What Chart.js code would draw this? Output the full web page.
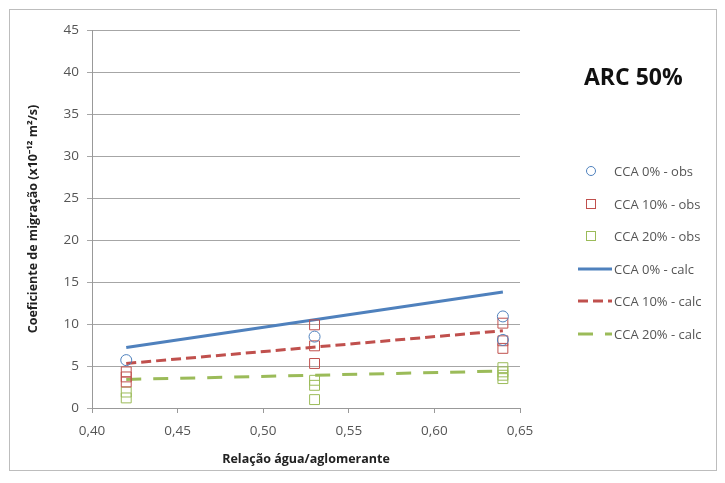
<!DOCTYPE html>
<html>
<head>
<meta charset="utf-8">
<script src="https://cdn.jsdelivr.net/npm/chart.js@4.4.1/dist/chart.umd.min.js"></script>
<style>
  body { margin: 0; background: #fff; font-family: "Open Sans", "Noto Sans", sans-serif; }
  #wrap { position: relative; width: 725px; height: 483px; }
  #frame { position: absolute; left: 9px; top: 9px; width: 706px; height: 460px; border: 1px solid #bdbdbd; }
  #title { position: absolute; left: 584px; top: 60px; font-size: 23px; font-weight: bold; color: #111; }
  #legend { position: absolute; left: 578px; top: 155px; font-size: 13px; color: #555; }
  .item { height: 32.6px; position: relative; }
  .item span.lbl { position: absolute; left: 36px; top: 7px; white-space: nowrap; }
  .item svg { position: absolute; left: 0; top: 8px; }
</style>
</head>
<body>
<div id="wrap">
  <div id="frame"></div>
  <canvas id="c" width="725" height="483"></canvas>
  <div id="title">ARC 50%</div>
  <div id="legend"></div>
</div>
<script>
const xTicks = [0.40, 0.45, 0.50, 0.55, 0.60, 0.65];
const yTicks = [0, 5, 10, 15, 20, 25, 30, 35, 40, 45];

// observed points (a/ag, coef.)
const obs0X = [0.42, 0.53, 0.64, 0.64];
const obs0Y = [5.7, 8.5, 10.9, 8.1];
const obs10X = [0.42, 0.42, 0.42, 0.53, 0.53, 0.53, 0.64, 0.64, 0.64];
const obs10Y = [4.3, 3.7, 3.1, 9.9, 7.4, 5.3, 10.1, 8.0, 7.1];
const obs20X = [0.42, 0.42, 0.53, 0.53, 0.53, 0.64, 0.64, 0.64, 0.64];
const obs20Y = [1.9, 1.2, 3.3, 2.7, 1.0, 4.8, 4.3, 3.9, 3.5];

// calculated lines
const calcX = [0.42, 0.64];
const calc0 = [7.2, 13.8];
const calc10 = [5.3, 9.2];
const calc20 = [3.4, 4.4];

const blue = "#4F81BD";
const red = "#C0504D";
const green = "#9BBB59";

const pts = (xs, ys) => xs.map((x, i) => ({ x: x, y: ys[i] }));

const datasets = [
  { label: "CCA 0% - obs", data: pts(obs0X, obs0Y), pointStyle: "circle", radius: 5.5, borderColor: blue, backgroundColor: "rgba(0,0,0,0)", borderWidth: 1, showLine: false },
  { label: "CCA 10% - obs", data: pts(obs10X, obs10Y), pointStyle: "rect", radius: 7, borderColor: red, backgroundColor: "rgba(0,0,0,0)", borderWidth: 1, showLine: false },
  { label: "CCA 20% - obs", data: pts(obs20X, obs20Y), pointStyle: "rect", radius: 7, borderColor: green, backgroundColor: "rgba(0,0,0,0)", borderWidth: 1, showLine: false },
  { label: "CCA 0% - calc", data: pts(calcX, calc0), showLine: true, borderColor: blue, borderWidth: 3, pointRadius: 0 },
  { label: "CCA 10% - calc", data: pts(calcX, calc10), showLine: true, borderColor: red, borderWidth: 3, borderDash: [10, 5], pointRadius: 0 },
  { label: "CCA 20% - calc", data: pts(calcX, calc20), showLine: true, borderColor: green, borderWidth: 3, borderDash: [15, 12], pointRadius: 0 }
];

new Chart(document.getElementById("c"), {
  type: "scatter",
  data: { datasets: datasets },
  options: {
    responsive: false,
    animation: false,
    layout: { padding: { left: 22, top: 30, right: 205, bottom: 12 } },
    plugins: { legend: { display: false }, tooltip: { enabled: false } },
    scales: {
      x: {
        type: "linear",
        min: xTicks[0],
        max: xTicks[xTicks.length - 1],
        afterBuildTicks: (s) => { s.ticks = xTicks.map((v) => ({ value: v })); },
        afterFit: (s) => { s.height = 63; },
        ticks: {
          color: "#555",
          font: { size: 13.5, family: "Open Sans" },
          padding: 10,
          callback: (v) => v.toFixed(2).replace(".", ",")
        },
        grid: { drawOnChartArea: false, color: "#999", tickLength: 5 },
        border: { color: "#999" },
        title: { display: true, text: "Relação água/aglomerante", color: "#222", font: { size: 12.5, weight: "bold", family: "Open Sans" }, padding: { top: 0 } }
      },
      y: {
        min: yTicks[0],
        max: yTicks[yTicks.length - 1],
        afterBuildTicks: (s) => { s.ticks = yTicks.map((v) => ({ value: v })); },
        afterFit: (s) => { s.width = 70; },
        ticks: { color: "#555", font: { size: 13.5, family: "Open Sans" }, padding: 8 },
        grid: { color: "#a6a6a6", tickLength: 5 },
        border: { color: "#999" },
        title: { display: true, text: "Coeficiente de migração (x10⁻¹² m²/s)", color: "#222", font: { size: 12.5, weight: "bold", family: "Open Sans" } }
      }
    }
  }
});

// legend
const legend = document.getElementById("legend");
const svgNS = "http://www.w3.org/2000/svg";
datasets.forEach((d) => {
  const item = document.createElement("div");
  item.className = "item";
  const svg = document.createElementNS(svgNS, "svg");
  svg.setAttribute("width", "36");
  svg.setAttribute("height", "16");
  let shape;
  if (d.showLine) {
    shape = document.createElementNS(svgNS, "line");
    shape.setAttribute("x1", "0");
    shape.setAttribute("x2", "34");
    shape.setAttribute("y1", "8");
    shape.setAttribute("y2", "8");
    shape.setAttribute("stroke-width", "3");
    if (d.borderDash) shape.setAttribute("stroke-dasharray", d.borderDash.join(" "));
  } else if (d.pointStyle === "circle") {
    shape = document.createElementNS(svgNS, "circle");
    shape.setAttribute("cx", "13");
    shape.setAttribute("cy", "8");
    shape.setAttribute("r", "4.5");
    shape.setAttribute("fill", "none");
  } else {
    shape = document.createElementNS(svgNS, "rect");
    shape.setAttribute("x", "8.5");
    shape.setAttribute("y", "3.5");
    shape.setAttribute("width", "9");
    shape.setAttribute("height", "9");
    shape.setAttribute("fill", "none");
  }
  shape.setAttribute("stroke", d.borderColor);
  svg.appendChild(shape);
  item.appendChild(svg);
  const lbl = document.createElement("span");
  lbl.className = "lbl";
  lbl.textContent = d.label;
  item.appendChild(lbl);
  legend.appendChild(item);
});
</script>
</body>
</html>
